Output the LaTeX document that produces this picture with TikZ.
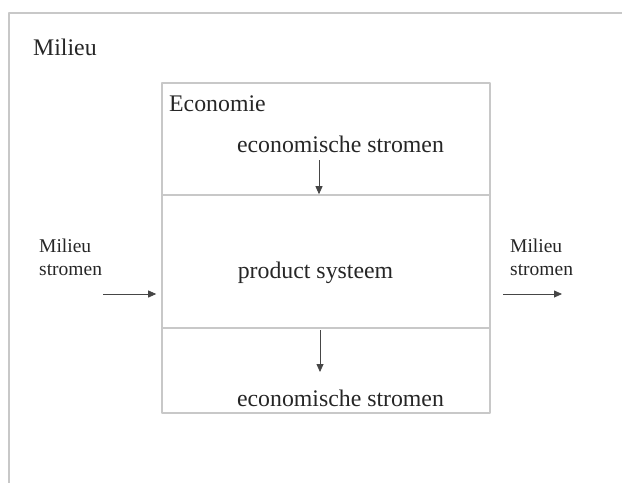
\documentclass[tikz,border=0pt]{standalone}
\usepackage{fontspec}
\setmainfont{Liberation Serif}
\usetikzlibrary{arrows.meta}
\definecolor{framegray}{RGB}{200,200,200}
\definecolor{flowgray}{RGB}{70,70,70}
\tikzset{
  box/.style={draw=framegray,line width=1.6pt,minimum width=328pt,inner sep=0pt},
  lbl/.style={inner sep=0pt,text=black!85,font=\fontsize{23.8}{28}\selectfont},
  sidelbl/.style={inner sep=0pt,text=black!85,align=left,font=\fontsize{19.5}{23}\selectfont},
  flow/.style={draw=flowgray,line width=0.8pt,-{Triangle[length=8pt,width=7pt]}}
}
\begin{document}
\begin{tikzpicture}[x=1pt,y=-1pt,line join = round, >= stealth]
	\useasboundingbox (0,0) rectangle (622,483);
	% outer frame (only top and left visible)
	\draw[framegray,line width=1.6pt] (622,13) -- (9,13) -- (9,483);
	\node[lbl,anchor=base west] (milieu) at (33,55) {Milieu};
	% economy boxes
	\node[box,minimum height=112pt] (eco) at (326,139) {};
	\node[box,minimum height=133pt] (prod) at (326,261.5) {};
	\node[box,minimum height=85pt] (out) at (326,370.5) {};
	\node[lbl,anchor=base west] (econ) at (169,111) {Economie};
	\node[lbl,anchor=base] (ecoin) at (340.5,152) {economische stromen};
	\node[lbl,anchor=base] (system) at (315.5,278) {product systeem};
	\node[lbl,anchor=base] (ecoout) at (340.5,406) {economische stromen};
	% environment flows
	\node[sidelbl,anchor=base west] (envin) at (39,275) {Milieu\\stromen};
	\node[sidelbl,anchor=base west] (envout) at (510,275) {Milieu\\stromen};
	\coordinate (a1) at (319,160);
	\coordinate (a2) at (320,330);
	\coordinate (a3) at (320,372);
	\coordinate (b1) at (103,294);
	\coordinate (c1) at (503,294);
	\coordinate (c2) at (562,294);
	\draw[flow] (a1) -- (prod.north -| a1);
	\draw[flow] (a2) -- (a3);
	\draw[flow,shorten >=5pt] (b1) -- (prod.west |- b1);
	\draw[flow] (c1) -- (c2);
	%\draw[red] (0,0) grid[step=50] (622,483);
\end{tikzpicture}
\end{document}
